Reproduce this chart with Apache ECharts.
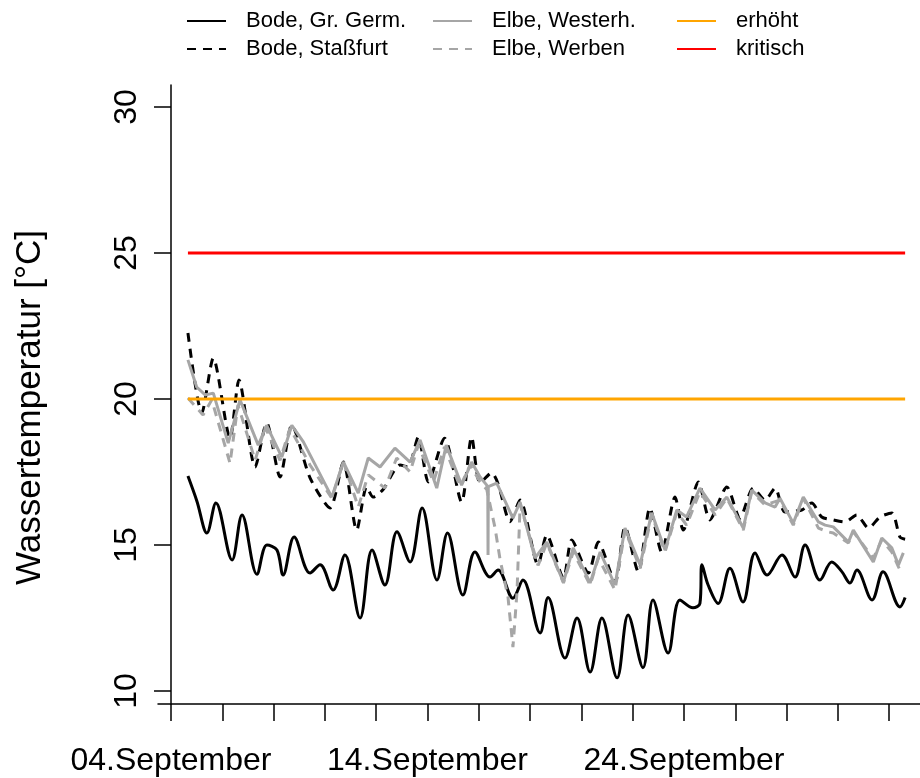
<!DOCTYPE html>
<html>
<head>
<meta charset="utf-8">
<script src="https://cdn.jsdelivr.net/npm/echarts@6/dist/echarts.min.js"></script>
<style>html,body{margin:0;padding:0;background:#fff}#c{width:920px;height:778px}</style>
</head>
<body>
<div id="c"></div>
<script>
// x values: days since 04.September 00:00
const tickDays = [0, 2, 4, 6, 8, 10, 12, 14, 16, 18, 20, 22, 24, 26, 28];
const labelDays = [0, 10, 20];
const labelTexts = ['04.September', '14.September', '24.September'];
const yTicks = [10, 15, 20, 25, 30];

const bodeGGDays = [0.66,1.01,1.40,1.75,2.38,2.77,3.35,3.74,4.13,4.37,4.80,5.42,5.81,6.32,6.78,7.37,7.84,8.34,8.81,9.32,9.79,10.37,10.78,11.38,11.85,12.44,12.75,13.33,13.72,14.39,14.70,15.36,15.83,16.34,16.80,17.39,17.82,18.40,18.79,19.38,19.84,20.35,20.62,20.70,20.94,21.33,21.79,22.30,22.77,23.24,23.82,24.33,24.72,25.30,25.76,26.16,26.47,26.74,27.33,27.76,28.42,28.62];
const bodeGGTemp = [17.36,16.5,15.41,16.44,14.49,16.03,14.0,15.0,14.83,13.97,15.27,14.04,14.32,13.46,14.66,12.5,14.83,13.63,15.45,14.42,16.27,13.8,15.41,13.29,14.76,13.9,14.14,13.18,13.8,11.99,13.2,11.13,12.5,10.65,12.5,10.45,12.6,10.8,13.12,11.3,13.12,12.85,13.0,14.32,13.63,13.0,14.2,13.05,14.73,13.97,14.66,13.9,15.0,13.8,14.42,14.08,13.7,14.14,13.12,14.08,12.88,13.2];

const bodeStDays = [0.66,1.20,1.65,2.30,2.65,3.28,3.73,4.25,4.71,5.42,6.20,6.72,7.24,7.63,7.88,8.27,8.93,9.24,9.64,10.03,10.66,11.33,11.72,12.05,12.50,12.75,13.22,13.61,14.31,14.65,15.30,15.62,16.27,16.66,17.31,17.70,18.22,18.67,19.13,19.65,19.97,20.56,21.01,21.67,22.18,22.70,23.16,23.55,23.94,24.59,24.98,25.37,25.82,26.28,26.73,27.19,27.64,28.10,28.42,28.62];
const bodeStTemp = [22.26,19.52,21.4,18.66,20.65,17.67,19.18,17.33,19.1,17.3,16.27,17.84,15.51,16.99,16.64,16.9,17.74,17.67,18.7,17.16,18.66,16.47,18.7,17.12,17.47,17.1,15.8,16.54,14.32,15.34,13.87,15.17,14.04,15.1,13.73,15.62,14.08,16.27,14.76,16.64,15.51,17.16,15.86,16.99,15.92,16.95,16.54,16.95,16.13,16.2,16.44,15.96,15.86,15.79,16.03,15.58,15.96,16.1,15.27,15.2];

const elbeWeDays = [0.66,1.00,1.33,1.65,2.23,2.69,3.40,3.73,4.32,4.71,5.16,6.27,6.72,7.30,7.69,8.15,8.73,9.32,9.71,10.36,10.73,11.33,11.72,12.05,12.31,12.35,12.36,12.37,12.70,13.33,13.61,14.19,14.65,15.30,15.68,16.34,16.73,17.31,17.70,18.29,18.74,19.26,19.72,20.10,20.62,21.21,21.67,22.31,22.64,23.16,23.55,23.74,24.26,24.65,25.24,25.50,25.82,26.41,26.60,27.38,27.71,28.10,28.36,28.55];
const elbeWeTemp = [21.34,20.41,20.14,20.2,18.49,19.97,18.42,19.1,18.01,19.1,18.53,16.64,17.85,16.78,17.98,17.67,18.32,17.84,18.6,16.95,18.42,17.05,17.84,17.33,17.05,16.9,14.66,17.0,17.12,15.92,16.47,14.55,15.1,13.73,14.9,13.7,14.76,13.63,15.58,14.32,16.1,14.83,16.2,15.96,16.95,16.2,16.64,15.58,16.88,16.44,16.3,16.6,15.75,16.64,15.79,15.68,15.62,15.1,15.51,14.42,15.24,14.9,14.32,14.73];

const elbeWbDays = [0.66,1.25,1.59,2.30,2.61,3.28,3.67,4.25,4.64,5.42,6.27,6.72,7.30,7.69,8.34,8.80,9.32,9.64,10.23,10.66,11.27,11.66,12.05,12.31,12.63,12.83,13.14,13.33,13.49,13.61,14.31,14.65,15.30,15.68,16.34,16.66,17.31,17.70,18.29,18.74,19.26,19.72,20.10,20.62,21.21,21.67,22.31,22.64,23.16,23.74,24.26,24.65,25.24,25.61,25.82,26.41,26.60,27.38,27.71,28.10,28.36,28.45];
const elbeWbTemp = [20.03,19.45,19.97,17.8,19.8,17.9,19.04,17.9,19.0,17.74,16.6,17.84,16.3,17.4,16.95,17.98,17.5,18.42,17.16,18.36,16.99,17.74,17.16,16.9,15.6,14.5,13.2,11.5,13.4,16.4,14.3,15.07,13.7,14.76,13.63,14.55,13.46,15.5,14.2,16.03,14.76,16.13,15.68,16.82,16.03,16.6,15.51,16.82,16.37,16.54,15.68,16.6,15.58,15.45,15.41,15.07,15.45,14.55,15.17,14.76,14.25,14.1];

const thresholdDays = [0.66, 28.62];
const erhoehtLevel = [20, 20];
const kritischLevel = [25, 25];

const zip = (a, b) => a.map((v, i) => [v, b[i]]);
const FONT = '"Liberation Sans", Arial, sans-serif';
const GRAY = '#a6a6a6';

const chart = echarts.init(document.getElementById('c'), null, {renderer: 'canvas'});

function legendBox(left, names) {
  return {
    orient: 'vertical', left: left, top: 4,
    itemWidth: 39, itemHeight: 2, itemGap: 4,
    data: names,
    textStyle: {fontFamily: FONT, fontSize: 22, color: '#000', lineHeight: 24, padding: [0, 0, 0, 15]},
    selectedMode: false
  };
}

const option = {
  animation: false,
  backgroundColor: '#fff',
  legend: [
    legendBox(181, ['Bode, Gr. Germ.', 'Bode, Staßfurt']),
    legendBox(427, ['Elbe, Westerh.', 'Elbe, Werben']),
    legendBox(671, ['erhöht', 'kritisch'])
  ],
  grid: {left: 158, right: 0, top: 85, bottom: 74, containLabel: false},
  xAxis: {
    type: 'value', min: -0.507, max: 29.2,
    axisLine: {show: true, lineStyle: {color: '#000', width: 1.5}},
    axisTick: {show: true, customValues: tickDays, length: 17, lineStyle: {color: '#000', width: 1.5}},
    axisLabel: {
      customValues: labelDays, fontFamily: FONT, fontSize: 32, color: '#000', margin: 41,
      formatter: v => labelTexts[labelDays.indexOf(Math.round(v))]
    },
    splitLine: {show: false}
  },
  yAxis: {
    type: 'value', min: 9.555, max: 30.753,
    name: 'Wassertemperatur [°C]', nameLocation: 'middle', nameRotate: 90, nameGap: 110,
    nameTextStyle: {fontFamily: FONT, fontSize: 35, color: '#000', padding: [0, 26, 0, 0]},
    axisLine: {show: true, lineStyle: {color: '#000', width: 1.5}},
    axisTick: {show: true, customValues: yTicks, length: 17, lineStyle: {color: '#000', width: 1.5}},
    axisLabel: {customValues: yTicks, rotate: 90, fontFamily: FONT, fontSize: 32, color: '#000', margin: 15},
    splitLine: {show: false}
  },
  series: [
    {name: 'Bode, Gr. Germ.', type: 'line', data: zip(bodeGGDays, bodeGGTemp), symbol: 'none', smooth: 0.35,
     lineStyle: {color: '#000', width: 3}, itemStyle: {color: '#000'}},
    {name: 'Bode, Staßfurt', type: 'line', data: zip(bodeStDays, bodeStTemp), symbol: 'none', smooth: 0.25,
     lineStyle: {color: '#000', width: 3, type: [9, 7]}, itemStyle: {color: '#000'}},
    {name: 'Elbe, Westerh.', type: 'line', data: zip(elbeWeDays, elbeWeTemp), symbol: 'none',
     lineStyle: {color: GRAY, width: 3}, itemStyle: {color: GRAY}},
    {name: 'Elbe, Werben', type: 'line', data: zip(elbeWbDays, elbeWbTemp), symbol: 'none',
     lineStyle: {color: GRAY, width: 3, type: [9, 7]}, itemStyle: {color: GRAY}},
    {name: 'erhöht', type: 'line', data: zip(thresholdDays, erhoehtLevel), symbol: 'none',
     lineStyle: {color: '#FFA500', width: 3.2}, itemStyle: {color: '#FFA500'}},
    {name: 'kritisch', type: 'line', data: zip(thresholdDays, kritischLevel), symbol: 'none',
     lineStyle: {color: '#FF0000', width: 3.2}, itemStyle: {color: '#FF0000'}}
  ]
};
chart.setOption(option);
</script>
</body>
</html>
